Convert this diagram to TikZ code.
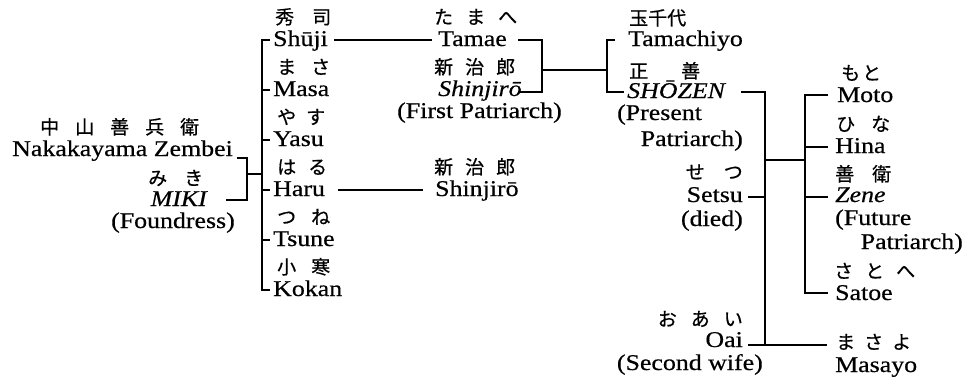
\documentclass[tikz,border=0pt]{standalone}
\usepackage{fontspec}
\setmainfont{Liberation Serif}[FakeStretch=1.15,FakeBold=0.5]
\newfontfamily\jp{Noto Sans CJK JP}[FakeBold=0.6]
\newcommand{\jg}[1]{\hspace{#1pt}}
\begin{document}
\begin{tikzpicture}[x=1pt,y=-1pt,
  rom/.style={inner sep=0pt, font=\fontsize{22.5}{24}\selectfont},
  itl/.style={rom, font=\fontsize{22.5}{24}\selectfont\itshape},
  jpn/.style={inner sep=0pt, font=\jp\fontsize{19}{20}\selectfont},
  ln/.style={line width=1.7pt}]
\path[use as bounding box] (0,0) rectangle (971,381);

% ---- left group
\node[jpn,anchor=base west] (kZembei) at (40,134) {中\jg{16}山\jg{16}善\jg{16}兵\jg{16}衛};
\node[rom,anchor=base east] (Zembei) at (233,156) {Nakakayama Zembei};
\node[jpn,anchor=base west] (kMiki) at (148,185) {み\jg{17}き};
\node[itl,anchor=base east] (Miki) at (207,206) {MIKI};
\node[rom,anchor=base east] (Foundress) at (235,228) {(Foundress)};

% ---- children of Zembei
\node[jpn,anchor=base west] (kShuji) at (275,24) {秀\jg{18}司};
\node[rom,anchor=base west] (Shuji) at (273,46) {Shūji};
\node[jpn,anchor=base west] (kMasa) at (277,74) {ま\jg{15}さ};
\node[rom,anchor=base west] (Masa) at (273,96) {Masa};
\node[jpn,anchor=base west] (kYasu) at (277,124) {や\jg{10}す};
\node[rom,anchor=base west] (Yasu) at (273,146) {Yasu};
\node[jpn,anchor=base west] (kHaru) at (277,174) {は\jg{12}る};
\node[rom,anchor=base west] (Haru) at (273,196) {Haru};
\node[jpn,anchor=base west] (kTsune) at (277,224) {つ\jg{15}ね};
\node[rom,anchor=base west] (Tsune) at (273,246) {Tsune};
\node[jpn,anchor=base west] (kKokan) at (277,274) {小\jg{15}寒};
\node[rom,anchor=base west] (Kokan) at (273,296) {Kokan};

% ---- Tamae / Shinjiro
\node[jpn,anchor=base west] (kTamae) at (434,24) {た\jg{13}ま\jg{13}へ};
\node[rom,anchor=base west] (Tamae) at (438,46) {Tamae};
\node[jpn,anchor=base west] (kShin) at (434,74) {新\jg{12}治\jg{12}郎};
\node[itl,anchor=base west] (Shin) at (438,96) {Shinjirō};
\node[rom,anchor=base west] (FirstP) at (397,118) {(First Patriarch)};
\node[jpn,anchor=base west] (kShinB) at (434,174) {新\jg{12}治\jg{12}郎};
\node[rom,anchor=base west] (ShinB) at (435,196) {Shinjirō};

% ---- Tamachiyo / Shozen
\node[jpn,anchor=base west] (kTamachiyo) at (629,25) {玉千代};
\node[rom,anchor=base west] (Tamachiyo) at (628,46) {Tamachiyo};
\node[jpn,anchor=base west] (kShozen) at (629,78) {正\jg{33}善};
\node[itl,anchor=base west] (Shozen) at (627,98) {SHŌZEN};
\node[rom,anchor=base west] (Present) at (617,120) {(Present};
\node[rom,anchor=base east] (PresentB) at (743,146) {Patriarch)};
\node[jpn,anchor=base east] (kSetsu) at (743,179) {せ\jg{19}つ};
\node[rom,anchor=base east] (Setsu) at (743,202) {Setsu};
\node[rom,anchor=base east] (died) at (743,226) {(died)};
\node[jpn,anchor=base east] (kOai) at (743,326) {お\jg{14}あ\jg{14}い};
\node[rom,anchor=base east] (Oai) at (743,347) {Oai};
\node[rom,anchor=base east] (Second) at (763,370) {(Second wife)};

% ---- children of Shozen
\node[jpn,anchor=base west] (kMoto) at (841,80) {も\jg{2}と};
\node[rom,anchor=base west] (Moto) at (837,102) {Moto};
\node[jpn,anchor=base west] (kHina) at (836,131) {ひ\jg{16}な};
\node[rom,anchor=base west] (Hina) at (835,153) {Hina};
\node[jpn,anchor=base west] (kZene) at (835,181) {善\jg{18}衛};
\node[itl,anchor=base west] (Zene) at (835,202) {Zene};
\node[rom,anchor=base west] (Future) at (835,225) {(Future};
\node[rom,anchor=base east] (FutureB) at (963,249) {Patriarch)};
\node[jpn,anchor=base west] (kSatoe) at (834,278) {さ\jg{12}と\jg{12}へ};
\node[rom,anchor=base west] (Satoe) at (835,300) {Satoe};
\node[jpn,anchor=base west] (kMasayo) at (836,349) {ま\jg{9}さ\jg{9}よ};
\node[rom,anchor=base west] (Masayo) at (835,372) {Masayo};

% ---- connector coordinates
\coordinate (zA) at (237,158); \coordinate (zB) at (247,158);
\coordinate (zC) at (247,200); \coordinate (zD) at (226,200);
\coordinate (zM) at (247,174); \coordinate (cM) at (262,174);
\coordinate (c1) at (262,40);  \coordinate (c1e) at (270,40);
\coordinate (c2) at (262,90);  \coordinate (c2e) at (270,90);
\coordinate (c3) at (262,140); \coordinate (c3e) at (270,140);
\coordinate (c4) at (262,190); \coordinate (c4e) at (270,190);
\coordinate (c5) at (262,240); \coordinate (c5e) at (270,240);
\coordinate (c6) at (262,290); \coordinate (c6e) at (270,290);
\coordinate (sA) at (334,40);  \coordinate (sB) at (432,40);
\coordinate (hA) at (338,190); \coordinate (hB) at (423,190);
\coordinate (tA) at (518,40);  \coordinate (tB) at (542,40);
\coordinate (tC) at (542,92);  \coordinate (tD) at (518,92);
\coordinate (tM) at (542,70);  \coordinate (qM) at (607,70);
\coordinate (qA) at (615,40);  \coordinate (qB) at (607,40);
\coordinate (qC) at (607,92);  \coordinate (qD) at (624,92);
\coordinate (pA) at (741,92);  \coordinate (pB) at (765,92);
\coordinate (pC) at (765,345);
\coordinate (eA) at (748,197); \coordinate (eB) at (765,197);
\coordinate (oA) at (748,345); \coordinate (oB) at (827,345);
\coordinate (pM) at (765,160); \coordinate (kM) at (805,160);
\coordinate (k1e) at (828,95);  \coordinate (k1) at (805,95);
\coordinate (k2) at (805,147);  \coordinate (k2e) at (828,147);
\coordinate (k3) at (805,197);  \coordinate (k3e) at (828,197);
\coordinate (k4) at (805,293);  \coordinate (k4e) at (828,293);

% ---- connectors
\draw[ln] (zA) -- (zB) -- (zC) -- (zD);
\draw[ln] (zM) -- (cM);
\draw[ln] (c1e) -- (c1) -- (c6) -- (c6e);
\draw[ln] (c2) -- (c2e);
\draw[ln] (c3) -- (c3e);
\draw[ln] (c4) -- (c4e);
\draw[ln] (c5) -- (c5e);
\draw[ln] (sA) -- (sB);
\draw[ln] (hA) -- (hB);
\draw[ln] (tA) -- (tB) -- (tC) -- (tD);
\draw[ln] (tM) -- (qM);
\draw[ln] (qA) -- (qB) -- (qC) -- (qD);
\draw[ln] (pA) -- (pB) -- (pC);
\draw[ln] (eA) -- (eB);
\draw[ln] (oA) -- (oB);
\draw[ln] (pM) -- (kM);
\draw[ln] (k1e) -- (k1) -- (k4) -- (k4e);
\draw[ln] (k2) -- (k2e);
\draw[ln] (k3) -- (k3e);
\end{tikzpicture}
\end{document}
